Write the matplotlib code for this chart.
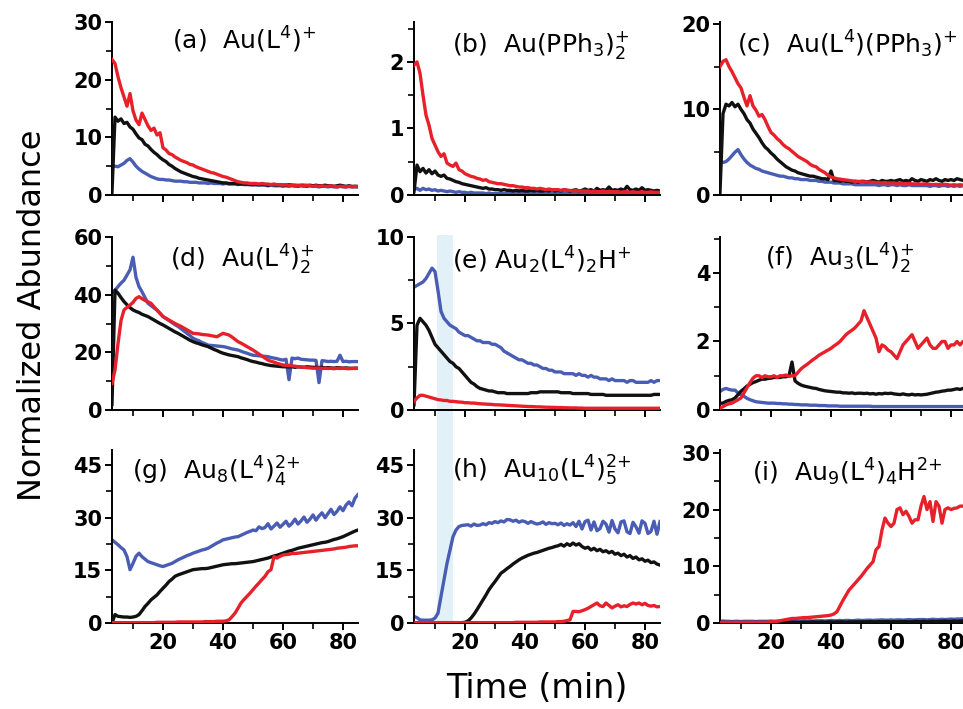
import matplotlib
matplotlib.use("Agg")
import matplotlib.pyplot as plt
import matplotlib.transforms as mtransforms
from matplotlib.patches import Rectangle
import numpy as np

# time axis (min), one reading per minute
time_min = list(range(3, 86))

# (a) Au(L4)+
a_red = [23.5, 22.8, 20.5, 18.6, 17.0, 15.4, 17.6, 14.6, 13.0, 12.2,
         14.2, 13.1, 12.0, 11.2, 11.6, 10.4, 10.8, 8.2, 7.8, 7.2,
         7.0, 6.6, 6.3, 6.0, 5.8, 5.6, 5.3, 5.2, 4.9, 4.7,
         4.5, 4.3, 4.1, 3.9, 3.8, 3.6, 3.4, 3.2, 3.1, 2.9,
         2.7, 2.5, 2.3, 2.2, 2.1, 2.1, 2.0, 2.0,
         2.0, 1.9, 2.0, 1.9, 1.9, 1.8, 1.9, 1.8, 1.8, 1.7,
         1.8, 1.7, 1.7, 1.6, 1.7, 1.6, 1.6, 1.7, 1.6, 1.5,
         1.6, 1.5, 1.6, 1.5, 1.5, 1.6, 1.5, 1.4, 1.5, 1.5, 1.4, 1.5, 1.4, 1.5, 1.4]
a_black = [0.5, 13.5, 12.8, 13.2, 12.4, 12.6, 11.8, 11.4, 10.6, 9.9,
           9.6, 8.8, 8.5, 7.9, 7.4, 7.0, 6.5, 6.1, 5.8, 5.3,
           5.0, 4.6, 4.3, 4.0, 3.8, 3.6, 3.4, 3.2, 3.1, 2.9,
           2.8, 2.7, 2.6, 2.5, 2.4, 2.3, 2.2, 2.1, 2.1, 2.0,
           2.0, 2.0, 1.9, 1.9, 1.9, 1.9, 1.8, 1.9,
           1.8, 1.8, 1.9, 1.8, 1.7, 1.8, 1.8, 1.7, 1.8, 1.7,
           1.7, 1.8, 1.7, 1.7, 1.6, 1.7, 1.7, 1.6, 1.7, 1.6,
           1.7, 1.6, 1.6, 1.7, 1.6, 1.6, 1.5, 1.6, 1.7, 1.6, 1.5, 1.6, 1.5, 1.5, 1.5]
a_blue = [4.8, 5.0, 4.9, 5.2, 5.5, 6.0, 6.3, 5.7, 5.0, 4.5,
          4.1, 3.8, 3.5, 3.2, 3.0, 2.8, 2.7, 2.7, 2.6, 2.6,
          2.5, 2.4, 2.4, 2.4, 2.3, 2.3, 2.2, 2.2, 2.2, 2.1,
          2.1, 2.1, 2.0, 2.1, 2.0, 2.0, 2.0, 1.9, 2.0, 1.9,
          1.9, 1.9, 1.8, 1.9, 1.8, 1.8, 1.8, 1.7,
          1.8, 1.7, 1.7, 1.7, 1.6, 1.7, 1.6, 1.6, 1.6, 1.5,
          1.6, 1.5, 1.6, 1.5, 1.5, 1.6, 1.5, 1.5, 1.6, 1.5,
          1.5, 1.4, 1.5, 1.5, 1.4, 1.5, 1.4, 1.4, 1.5, 1.4, 1.4, 1.5, 1.4, 1.4, 1.4]

# (b) Au(PPh3)2+
b_red = [1.95, 2.0, 1.83, 1.5, 1.2, 1.05, 0.85, 0.75, 0.65, 0.58,
         0.62, 0.48, 0.45, 0.43, 0.48, 0.38, 0.36, 0.32, 0.3, 0.28,
         0.27, 0.25, 0.24, 0.22, 0.23, 0.2, 0.19, 0.18, 0.17, 0.17,
         0.16, 0.15, 0.14, 0.14, 0.13, 0.12, 0.12, 0.11, 0.11, 0.1,
         0.1, 0.09, 0.1, 0.09, 0.08, 0.09, 0.08, 0.08,
         0.08, 0.07, 0.08, 0.07, 0.07, 0.06, 0.07, 0.06, 0.06, 0.06,
         0.06, 0.05, 0.06, 0.05, 0.05, 0.06, 0.05, 0.05, 0.05, 0.05,
         0.05, 0.04, 0.05, 0.05, 0.04, 0.05, 0.04, 0.04, 0.05, 0.04, 0.04, 0.05, 0.04, 0.04, 0.04]
b_black = [0.05, 0.45, 0.35, 0.4, 0.33, 0.38, 0.32, 0.36, 0.3, 0.28,
           0.3, 0.25, 0.24, 0.22, 0.2, 0.19, 0.17, 0.16, 0.15, 0.14,
           0.13, 0.12, 0.11, 0.1, 0.11, 0.09, 0.09, 0.08, 0.08, 0.07,
           0.08, 0.07, 0.07, 0.06, 0.07, 0.06, 0.07, 0.06, 0.06, 0.07,
           0.06, 0.07, 0.06, 0.06, 0.07, 0.06, 0.08, 0.06,
           0.07, 0.06, 0.08, 0.07, 0.06, 0.07, 0.08, 0.06, 0.07, 0.09,
           0.07, 0.08, 0.06, 0.1, 0.07, 0.08, 0.07, 0.12, 0.07, 0.08,
           0.07, 0.09, 0.07, 0.13, 0.08, 0.07, 0.09, 0.07, 0.11, 0.07, 0.08, 0.07, 0.06, 0.07, 0.06]
b_blue = [0.08, 0.1, 0.07, 0.1, 0.08, 0.09, 0.07, 0.08, 0.06, 0.07,
          0.06, 0.05, 0.06, 0.05, 0.04, 0.05, 0.04, 0.04, 0.03, 0.04,
          0.03, 0.03, 0.03, 0.03, 0.02, 0.03, 0.02, 0.02, 0.02, 0.02,
          0.02, 0.02, 0.02, 0.02, 0.02, 0.02, 0.02, 0.02, 0.02, 0.02,
          0.02, 0.02, 0.02, 0.02, 0.02, 0.02, 0.02, 0.02,
          0.02, 0.02, 0.02, 0.02, 0.02, 0.02, 0.02, 0.02, 0.02, 0.02,
          0.02, 0.02, 0.02, 0.02, 0.02, 0.02, 0.02, 0.02, 0.02, 0.02,
          0.02, 0.02, 0.02, 0.02, 0.02, 0.02, 0.02, 0.02, 0.02, 0.02, 0.02, 0.02, 0.02, 0.02, 0.02]

# (c) Au(L4)(PPh3)+
c_red = [15.0, 15.6, 15.8, 15.0, 14.4, 13.7, 13.0, 12.5, 11.4, 10.4,
         11.6, 10.4, 9.9, 9.2, 9.4, 8.8, 8.0, 7.3, 7.0, 6.6,
         6.3, 5.9, 5.6, 5.4, 5.1, 4.8, 4.5, 4.3, 4.1, 3.9,
         3.6, 3.4, 3.3, 3.0, 2.8, 2.6, 2.3, 2.1, 2.0, 1.9,
         1.85, 1.8, 1.75, 1.7, 1.65, 1.6, 1.6, 1.55,
         1.55, 1.5, 1.5, 1.5, 1.45, 1.45, 1.4, 1.45, 1.4, 1.4,
         1.4, 1.35, 1.4, 1.35, 1.3, 1.35, 1.3, 1.3, 1.3, 1.25,
         1.3, 1.25, 1.25, 1.2, 1.25, 1.2, 1.2, 1.25, 1.2, 1.15, 1.2, 1.15, 1.2, 1.15, 1.2]
c_black = [0.3, 9.5, 10.6, 10.4, 10.8, 10.3, 10.6, 10.0, 9.5, 8.8,
           8.4, 7.7, 7.2, 6.7, 6.1, 5.6, 5.3, 4.9, 4.6, 4.2,
           3.9, 3.6, 3.3, 3.1, 2.9, 2.8, 2.6, 2.5, 2.4, 2.3,
           2.2, 2.2, 2.1, 2.0, 1.9, 1.9, 1.8, 2.8, 1.7, 1.7,
           1.6, 1.7, 1.6, 1.6, 1.5, 1.6, 1.5, 1.6,
           1.6, 1.5, 1.6, 1.7, 1.6, 1.5, 1.7, 1.6, 1.6, 1.7,
           1.6, 1.7, 1.8, 1.6, 1.7, 1.6, 1.9, 1.7, 1.6, 1.8,
           1.7, 1.6, 1.8, 1.7, 1.9, 1.7, 1.6, 1.8, 1.7, 1.8, 1.7, 1.9, 1.8, 1.7, 1.8]
c_blue = [4.0, 3.8, 3.9, 4.2, 4.6, 5.0, 5.3, 4.7, 4.2, 3.8,
          3.5, 3.3, 3.1, 3.0, 2.8, 2.7, 2.6, 2.5, 2.4, 2.3,
          2.2, 2.2, 2.1, 2.0, 2.0, 1.9, 1.9, 1.8, 1.8, 1.8,
          1.7, 1.7, 1.7, 1.6, 1.6, 1.5, 1.5, 1.5, 1.4, 1.4,
          1.4, 1.3, 1.3, 1.3, 1.3, 1.2, 1.2, 1.2,
          1.2, 1.2, 1.2, 1.2, 1.2, 1.1, 1.2, 1.2, 1.1, 1.2,
          1.2, 1.1, 1.2, 1.1, 1.1, 1.2, 1.1, 1.1, 1.1, 1.1,
          1.1, 1.1, 1.0, 1.1, 1.1, 1.0, 1.1, 1.1, 1.0, 1.1, 1.0, 1.1, 1.0, 1.1, 1.0]

# (d) Au(L4)2+
d_red = [9.2, 13.9, 23.0, 31.0, 34.7, 35.6, 36.4, 37.3, 38.7, 39.3,
         38.6, 38.0, 37.5, 37.0, 35.8, 34.6, 33.5, 32.4, 31.8, 31.2,
         30.6, 30.0, 29.5, 29.0, 28.4, 27.8, 27.2, 26.6, 26.5, 26.4,
         26.2, 26.1, 26.0, 25.8, 25.6, 25.4, 26.0, 26.6, 26.3, 26.0,
         25.3, 24.5, 23.7, 23.2, 22.6, 22.0, 21.4, 20.8,
         20.1, 19.4, 18.7, 18.0, 17.3, 16.9, 16.6, 16.2, 15.9, 15.6,
         15.5, 15.4, 15.3, 15.2, 15.0, 14.9, 14.8, 14.7, 14.6, 14.5,
         14.5, 14.6, 14.4, 14.5, 14.4, 14.5, 14.3, 14.5, 14.4, 14.5, 14.4, 14.3, 14.5, 14.4, 14.5]
d_black = [2.0, 41.6, 40.5, 39.0, 37.6, 36.5, 35.5, 34.7, 34.2, 33.8,
           33.2, 32.8, 32.4, 31.8, 31.2, 30.6, 30.0, 29.5, 28.9, 28.3,
           27.7, 27.1, 26.6, 26.0, 25.4, 24.8, 24.2, 23.7, 23.3, 23.0,
           22.6, 22.3, 22.0, 21.5, 21.0, 20.6, 20.1, 19.7, 19.4, 19.1,
           18.9, 18.7, 18.5, 18.1, 17.8, 17.5, 17.1, 16.8,
           16.6, 16.3, 16.1, 15.8, 15.6, 15.4, 15.3, 15.2, 15.1, 15.0,
           15.0, 14.9, 15.0, 14.8, 15.0, 14.9, 14.8, 15.0, 14.9, 14.8,
           14.8, 14.7, 14.8, 14.6, 14.7, 14.6, 14.5, 14.7, 14.6, 14.5, 14.6, 14.5, 14.4, 14.5, 14.5]
d_blue = [40.5, 41.5, 42.8, 44.0, 45.0, 46.8, 48.6, 53.0, 46.0, 42.8,
          41.0, 39.0, 37.0, 36.2, 35.4, 34.7, 33.6, 32.4, 31.7, 31.0,
          30.3, 29.6, 29.0, 28.2, 27.4, 26.6, 25.8, 24.9, 24.4, 24.0,
          23.4, 23.0, 22.5, 22.4, 22.3, 22.2, 22.1, 22.0, 21.8, 21.5,
          21.2, 21.0, 20.8, 20.4, 20.0, 19.7, 19.3, 19.0,
          18.9, 18.8, 18.7, 18.6, 18.5, 18.2, 18.0, 17.8, 17.5, 17.3,
          17.6, 10.5, 18.0, 17.8, 18.0, 17.6, 17.5, 17.4, 17.3, 17.3,
          17.2, 9.5, 17.1, 17.0, 16.8, 16.9, 16.8, 16.9, 19.0, 16.8, 16.9, 16.7, 16.8, 16.8, 16.8]

# (e) Au2(L4)2H+
e_red = [0.5, 0.7, 0.85, 0.85, 0.8, 0.75, 0.7, 0.65, 0.6, 0.58,
         0.55, 0.55, 0.5, 0.5, 0.48, 0.46, 0.45, 0.42, 0.42, 0.4,
         0.4, 0.38, 0.36, 0.35, 0.34, 0.33, 0.32, 0.3, 0.3, 0.29,
         0.28, 0.27, 0.26, 0.25, 0.24, 0.23, 0.22, 0.21, 0.2, 0.2,
         0.19, 0.18, 0.18, 0.17, 0.16, 0.16, 0.15, 0.15,
         0.14, 0.14, 0.13, 0.13, 0.12, 0.12, 0.12, 0.11, 0.11, 0.1,
         0.1, 0.1, 0.1, 0.1, 0.1, 0.1, 0.1, 0.1, 0.1, 0.1,
         0.1, 0.1, 0.1, 0.1, 0.1, 0.1, 0.1, 0.1, 0.1, 0.1, 0.1, 0.1, 0.1, 0.1, 0.1]
e_black = [0.3, 4.9, 5.3, 5.1, 4.9, 4.6, 4.2, 3.8, 3.6, 3.4,
           3.2, 3.0, 2.8, 2.7, 2.5, 2.4, 2.2, 2.0, 1.8, 1.6,
           1.5, 1.35, 1.25, 1.2, 1.15, 1.1, 1.1, 1.05, 1.0, 1.0,
           1.0, 0.95, 0.95, 0.95, 0.95, 0.95, 0.95, 0.95, 0.95, 1.0,
           1.0, 1.0, 1.05, 1.05, 1.05, 1.05, 1.05, 1.05,
           1.05, 1.0, 1.0, 1.0, 1.0, 0.95, 0.95, 0.95, 0.95, 0.95,
           0.95, 0.9, 0.9, 0.9, 0.9, 0.9, 0.85, 0.85, 0.85, 0.85,
           0.85, 0.85, 0.85, 0.85, 0.85, 0.85, 0.85, 0.85, 0.85, 0.85, 0.85, 0.85, 0.9, 0.9, 0.9]
e_blue = [7.1, 7.2, 7.3, 7.4, 7.6, 7.9, 8.2, 8.0, 6.9, 5.7,
          5.3, 5.1, 4.9, 4.8, 4.7, 4.5, 4.4, 4.3, 4.3, 4.2,
          4.1, 4.0, 4.0, 3.9, 3.9, 3.9, 3.8, 3.8, 3.7, 3.6,
          3.4, 3.3, 3.2, 3.1, 3.0, 2.9, 2.9, 2.8, 2.7, 2.7,
          2.6, 2.6, 2.5, 2.4, 2.4, 2.3, 2.3, 2.2,
          2.2, 2.2, 2.1, 2.1, 2.1, 2.1, 2.0, 2.1, 2.0, 2.0,
          1.9, 2.0, 1.9, 1.9, 1.8, 1.8, 1.8, 1.7, 1.8, 1.7,
          1.7, 1.7, 1.7, 1.6, 1.7, 1.7, 1.6, 1.6, 1.6, 1.6, 1.6, 1.7, 1.6, 1.7, 1.7]

# (f) Au3(L4)2+
f_red = [0.05, 0.1, 0.15, 0.18, 0.2, 0.25, 0.3, 0.35, 0.5, 0.65,
         0.8, 0.93, 1.0, 1.0, 0.95, 1.0, 0.97, 0.97, 1.0, 0.95,
         1.0, 1.0, 1.02, 0.98, 1.0, 1.0, 1.1, 1.2, 1.27, 1.33,
         1.4, 1.47, 1.53, 1.6, 1.65, 1.7, 1.75, 1.8, 1.87, 1.93,
         2.0, 2.1, 2.2, 2.27, 2.33, 2.4, 2.5, 2.6,
         2.9, 2.7, 2.5, 2.3, 2.1, 1.7, 1.9, 1.85, 1.75, 1.7,
         1.6, 1.5, 1.7, 1.9, 2.0, 2.1, 2.2, 2.0, 1.8, 1.9,
         2.0, 2.1, 1.9, 1.8, 1.8, 1.9, 2.0, 2.0, 1.8, 1.9, 1.9, 2.0, 1.9, 2.0, 2.0]
f_black = [0.2, 0.2, 0.25, 0.28, 0.3, 0.35, 0.45, 0.55, 0.62, 0.7,
           0.75, 0.8, 0.83, 0.87, 0.9, 0.9, 0.92, 0.93, 0.95, 0.95,
           0.95, 0.97, 0.97, 1.0, 1.4, 0.85, 0.78, 0.73, 0.7, 0.68,
           0.66, 0.64, 0.63, 0.6, 0.58, 0.56, 0.55, 0.54, 0.53, 0.52,
           0.52, 0.5, 0.5, 0.49, 0.5, 0.48, 0.49, 0.49,
           0.48, 0.49, 0.47, 0.48, 0.46, 0.48, 0.47, 0.49, 0.48, 0.49,
           0.47, 0.46, 0.45, 0.47, 0.45, 0.44, 0.46, 0.44, 0.45, 0.44,
           0.45, 0.46, 0.48, 0.5, 0.52, 0.53, 0.55, 0.56, 0.58, 0.58, 0.6, 0.62, 0.6, 0.63, 0.63]
f_blue = [0.54, 0.6, 0.63, 0.6, 0.58, 0.58, 0.5, 0.44, 0.4, 0.34,
          0.3, 0.27, 0.24, 0.23, 0.22, 0.21, 0.2, 0.2, 0.2, 0.19,
          0.19, 0.18, 0.18, 0.17, 0.17, 0.16, 0.16, 0.15, 0.15, 0.15,
          0.14, 0.14, 0.14, 0.13, 0.13, 0.13, 0.12, 0.12, 0.12, 0.12,
          0.11, 0.11, 0.11, 0.11, 0.11, 0.11, 0.11, 0.11,
          0.11, 0.11, 0.11, 0.1, 0.1, 0.1, 0.1, 0.1, 0.1, 0.1,
          0.1, 0.1, 0.1, 0.1, 0.1, 0.1, 0.1, 0.1, 0.1, 0.1,
          0.1, 0.1, 0.1, 0.1, 0.1, 0.1, 0.1, 0.1, 0.1, 0.1, 0.1, 0.1, 0.1, 0.1, 0.1]

# (g) Au8(L4)4 2+
g_red = [0.1, 0.1, 0.1, 0.1, 0.1, 0.1, 0.1, 0.1, 0.1, 0.1,
         0.1, 0.1, 0.1, 0.1, 0.1, 0.2, 0.2, 0.2, 0.2, 0.2,
         0.2, 0.2, 0.3, 0.3, 0.3, 0.3, 0.3, 0.3, 0.3, 0.3,
         0.3, 0.4, 0.4, 0.4, 0.4, 0.5, 0.5, 0.5, 0.6, 0.9,
         1.8, 2.8, 4.2, 5.7, 6.7, 7.6, 8.5, 9.5,
         10.5, 11.4, 12.4, 13.3, 14.6, 15.2, 18.9, 18.5, 19.0, 19.4,
         19.5, 19.6, 19.8, 19.8, 19.9, 20.0, 20.1, 20.2, 20.3, 20.4,
         20.5, 20.6, 20.7, 20.8, 20.9, 21.0, 21.1, 21.3, 21.4, 21.5, 21.6, 21.8, 21.9, 22.0, 22.0]
g_black = [0.0, 2.4, 1.9, 1.8, 1.7, 1.7, 1.6, 1.7, 1.9, 2.4,
           3.5, 4.7, 5.6, 6.6, 7.3, 8.0, 9.0, 9.9, 10.8, 11.8,
           12.5, 13.3, 13.7, 14.0, 14.3, 14.6, 14.9, 15.2, 15.3, 15.4,
           15.5, 15.5, 15.6, 15.8, 16.0, 16.2, 16.4, 16.6, 16.7, 16.8,
           16.9, 16.9, 17.0, 17.1, 17.2, 17.3, 17.4, 17.5,
           17.7, 17.9, 18.1, 18.3, 18.5, 18.8, 19.1, 19.3, 19.6, 19.9,
           20.2, 20.5, 20.7, 21.0, 21.3, 21.5, 21.7, 21.9, 22.1, 22.3,
           22.5, 22.7, 22.9, 23.0, 23.2, 23.5, 23.8, 24.0, 24.3, 24.6, 25.0, 25.4, 25.8, 26.2, 26.5]
g_blue = [23.7, 23.0, 22.3, 21.5, 20.8, 18.9, 15.2, 17.0, 19.0, 19.9,
          18.9, 18.2, 17.5, 17.2, 16.9, 16.6, 16.3, 16.1, 16.4, 16.7,
          17.0, 17.5, 18.0, 18.4, 18.8, 19.2, 19.5, 19.9, 20.2, 20.5,
          20.8, 21.0, 21.3, 21.8, 22.3, 22.8, 23.2, 23.7, 23.9, 24.1,
          24.3, 24.5, 24.6, 25.0, 25.4, 25.8, 26.1, 26.5,
          26.3, 27.4, 26.9, 27.2, 28.3, 26.8, 27.6, 28.5, 27.3, 28.1,
          29.0, 27.6, 28.4, 29.6, 28.2, 29.1, 30.2, 28.7, 29.6, 30.8,
          29.3, 30.5, 31.4, 30.0, 31.2, 32.4, 30.9, 31.8, 33.1, 32.0, 33.6, 34.5, 33.4, 35.6, 36.6]

# (h) Au10(L4)5 2+
h_red = [0.1, 0.1, 0.1, 0.1, 0.1, 0.1, 0.1, 0.1, 0.1, 0.1,
         0.1, 0.1, 0.1, 0.1, 0.1, 0.1, 0.1, 0.1, 0.1, 0.1,
         0.1, 0.1, 0.1, 0.1, 0.1, 0.1, 0.1, 0.1, 0.1, 0.1,
         0.1, 0.1, 0.1, 0.1, 0.2, 0.2, 0.2, 0.2, 0.2, 0.2,
         0.2, 0.2, 0.3, 0.3, 0.3, 0.3, 0.3, 0.3,
         0.4, 0.4, 0.5, 0.7, 0.9, 3.3, 3.3, 3.2, 3.5, 3.8,
         4.2, 4.7, 5.2, 5.7, 4.9, 4.7, 5.7, 5.0, 4.3, 4.8,
         5.2, 4.6, 4.9, 4.7, 5.3, 5.7, 5.4, 5.7, 5.2, 5.6, 5.0, 4.8, 5.0, 4.6, 4.7]
h_black = [0.1, 0.1, 0.1, 0.1, 0.1, 0.1, 0.1, 0.1, 0.1, 0.1,
           0.1, 0.1, 0.1, 0.1, 0.1, 0.1, 0.1, 0.2, 0.6, 1.4,
           2.5, 3.8, 5.2, 6.6, 8.0, 9.5, 10.7, 11.8, 13.0, 14.2,
           14.8, 15.5, 16.1, 16.8, 17.4, 18.0, 18.5, 18.9, 19.3, 19.6,
           19.9, 20.1, 20.4, 20.7, 21.0, 21.3, 21.5, 21.8,
           22.0, 22.4, 21.9, 22.6, 22.1, 22.8, 22.2, 22.6, 21.8, 21.3,
           21.6, 20.8, 21.3, 20.6, 21.0, 20.3, 20.6, 20.0, 20.4, 19.6,
           19.9, 19.2, 19.6, 18.8, 19.2, 18.4, 18.8, 18.0, 18.3, 17.6, 17.9, 17.2, 17.4, 16.8, 16.5]
h_blue = [1.9, 1.5, 0.9, 0.8, 0.8, 0.8, 0.9, 1.4, 2.8, 7.6,
          12.3, 17.0, 20.8, 24.6, 26.5, 27.5, 27.8, 27.9, 28.0, 27.6,
          28.2, 27.8, 27.9, 28.3, 28.0, 28.6, 28.4, 28.9, 28.6, 29.1,
          28.8, 29.5, 29.4, 29.0, 29.3, 28.7, 29.1, 28.9, 28.4, 28.9,
          28.5, 28.2, 28.4, 28.8, 28.1, 28.6, 28.3, 28.4,
          28.0, 28.5, 27.8, 28.3, 27.9, 28.6, 27.5, 29.0, 26.8, 28.9,
          29.3, 26.5, 28.8, 26.3, 26.9, 29.0, 28.2, 25.9, 29.2, 26.8,
          25.7, 28.8, 29.1, 26.0, 25.5, 28.7, 27.4, 25.6, 29.1, 28.4, 25.5, 26.1, 29.0, 25.3, 28.9]

# (i) Au9(L4)4H 2+
i_red = [0.1, 0.1, 0.1, 0.1, 0.1, 0.1, 0.1, 0.1, 0.1, 0.1,
         0.1, 0.1, 0.1, 0.1, 0.1, 0.1, 0.15, 0.2, 0.25, 0.3,
         0.4, 0.5, 0.6, 0.7, 0.8, 0.8, 0.85, 0.9, 0.95, 0.95,
         1.0, 1.05, 1.1, 1.15, 1.2, 1.25, 1.3, 1.4, 1.6, 2.0,
         3.0, 4.0, 4.9, 5.8, 6.4, 7.0, 7.6, 8.2,
         8.9, 9.6, 10.2, 10.8, 12.9, 13.5, 16.4, 18.5, 17.6, 17.0,
         17.6, 20.0, 20.3, 19.1, 19.7, 18.8, 17.6, 18.2, 18.2, 20.6,
         22.3, 20.0, 21.4, 17.9, 21.4, 20.6, 17.6, 20.0, 20.3, 20.0, 20.2, 20.3, 20.6, 20.6, 20.9]
i_black = [0.1, 0.1, 0.1, 0.1, 0.1, 0.1, 0.1, 0.1, 0.1, 0.1,
           0.1, 0.1, 0.1, 0.1, 0.1, 0.1, 0.1, 0.1, 0.1, 0.1,
           0.1, 0.1, 0.15, 0.1, 0.15, 0.15, 0.1, 0.15, 0.15, 0.15,
           0.15, 0.2, 0.15, 0.15, 0.2, 0.15, 0.2, 0.2, 0.15, 0.2,
           0.2, 0.2, 0.15, 0.2, 0.2, 0.2, 0.2, 0.2,
           0.2, 0.2, 0.25, 0.2, 0.2, 0.25, 0.2, 0.25, 0.25, 0.2,
           0.25, 0.2, 0.25, 0.25, 0.25, 0.2, 0.25, 0.3, 0.25, 0.25,
           0.3, 0.25, 0.3, 0.3, 0.25, 0.3, 0.3, 0.35, 0.3, 0.3, 0.35, 0.3, 0.35, 0.35, 0.4]
i_blue = [0.3, 0.35, 0.3, 0.3, 0.25, 0.3, 0.3, 0.25, 0.3, 0.3,
          0.3, 0.3, 0.25, 0.3, 0.3, 0.3, 0.3, 0.35, 0.3, 0.3,
          0.3, 0.35, 0.3, 0.35, 0.35, 0.3, 0.35, 0.35, 0.4, 0.35,
          0.4, 0.35, 0.4, 0.4, 0.4, 0.35, 0.4, 0.45, 0.4, 0.4,
          0.45, 0.4, 0.45, 0.45, 0.4, 0.45, 0.5, 0.45,
          0.45, 0.5, 0.5, 0.45, 0.5, 0.5, 0.55, 0.5, 0.5, 0.55,
          0.5, 0.55, 0.55, 0.5, 0.55, 0.6, 0.55, 0.55, 0.6, 0.6,
          0.6, 0.55, 0.6, 0.65, 0.6, 0.6, 0.65, 0.6, 0.65, 0.7, 0.65, 0.7, 0.7, 0.75, 0.7]

titles = [r'(a)  Au(L$^{4}$)$^{+}$',
          r'(b)  Au(PPh$_{3}$)$_{2}^{+}$',
          r'(c)  Au(L$^{4}$)(PPh$_{3}$)$^{+}$',
          r'(d)  Au(L$^{4}$)$_{2}^{+}$',
          r'(e) Au$_{2}$(L$^{4}$)$_{2}$H$^{+}$',
          r'(f)  Au$_{3}$(L$^{4}$)$_{2}^{+}$',
          r'(g)  Au$_{8}$(L$^{4}$)$_{4}^{2{+}}$',
          r'(h)  Au$_{10}$(L$^{4}$)$_{5}^{2{+}}$',
          r'(i)  Au$_{9}$(L$^{4}$)$_{4}$H$^{2{+}}$']

panels = [(a_blue, a_black, a_red), (b_blue, b_black, b_red), (c_blue, c_black, c_red),
          (d_blue, d_black, d_red), (e_blue, e_black, e_red), (f_blue, f_black, f_red),
          (g_blue, g_black, g_red), (h_blue, h_black, h_red), (i_blue, i_black, i_red)]

ylims = [30, 2.6, 20.2, 60, 10, 5.05, 49.3, 49.3, 30.5]
yticks = [[0, 10, 20, 30], [0, 1, 2], [0, 10, 20], [0, 20, 40, 60], [0, 5, 10],
          [0, 2, 4], [0, 15, 30, 45], [0, 15, 30, 45], [0, 10, 20, 30]]
title_pos = [(0.244, 0.896), (0.154, 0.867), (0.069, 0.873),
             (0.236, 0.867), (0.154, 0.867), (0.183, 0.873),
             (0.081, 0.873), (0.154, 0.879), (0.13, 0.873)]

BLUE = '#4a5db4'
RED = '#e8202a'
BLACK = '#111111'

plt.rcParams['mathtext.fontset'] = 'dejavusans'

W, H = 963, 709
fig = plt.figure(figsize=(W / 100, H / 100), dpi=100)

col_left = [112, 414, 720]
row_bottom = [195, 410, 623]
ax_w, ax_h = 246, 173

axes = []
for k in range(9):
    r, c = divmod(k, 3)
    ax = fig.add_axes([col_left[c] / W, 1 - row_bottom[r] / H, ax_w / W, ax_h / H])
    ax.set_facecolor('none')
    blue, black, red = panels[k]
    ax.plot(time_min, blue, color=BLUE, lw=2.4, zorder=2)
    ax.plot(time_min, black, color=BLACK, lw=2.4, zorder=3)
    ax.plot(time_min, red, color=RED, lw=2.4, zorder=4)
    ax.set_xlim(3, 85)
    ax.set_ylim(0, ylims[k])
    ax.set_yticks(yticks[k])
    step = yticks[k][1] - yticks[k][0]
    ax.set_yticks(np.arange(step / 2, ylims[k], step), minor=True)
    ax.set_xticks([20, 40, 60, 80])
    ax.set_xticks([10, 30, 50, 70], minor=True)
    if r < 2:
        ax.set_xticklabels([])
    for s in ['top', 'right']:
        ax.spines[s].set_visible(False)
    for s in ['left', 'bottom']:
        ax.spines[s].set_linewidth(1.4)
    ax.tick_params(which='major', length=5, width=1.4, labelsize=15, pad=2)
    ax.tick_params(which='minor', length=4, width=1.2)
    for lab in ax.get_xticklabels() + ax.get_yticklabels():
        lab.set_fontweight('bold')
    ax.text(title_pos[k][0], title_pos[k][1], titles[k], transform=ax.transAxes,
            fontsize=18, ha='left', va='center')
    axes.append(ax)

# light blue band spanning panels (e) and (h)
trans = mtransforms.blended_transform_factory(axes[4].transData, fig.transFigure)
band = Rectangle((10.7, 1 - 623 / H), 5.3, (623 - 235) / H, transform=trans,
                 facecolor='#e2f1f8', edgecolor='none', zorder=0, clip_on=False)
axes[4].add_patch(band)

fig.text(0.034, 1 - 315 / H, 'Normalized Abundance', rotation=90,
         fontsize=23, ha='center', va='center')
fig.text(537 / W, 1 - 689 / H, 'Time (min)', fontsize=24, ha='center', va='center')

fig.savefig('out.png', dpi=100)
